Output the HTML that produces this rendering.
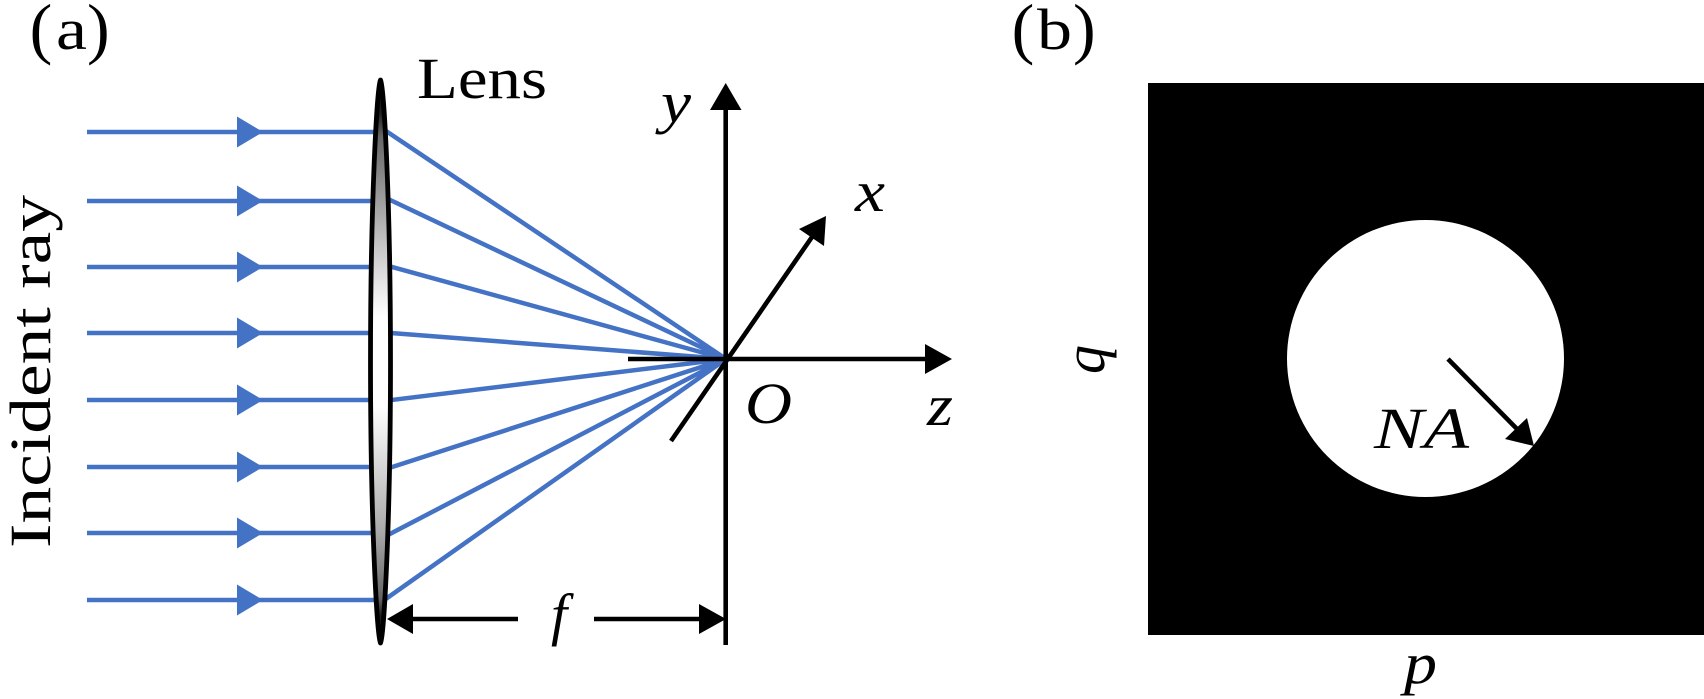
<!DOCTYPE html>
<html><head><meta charset="utf-8"><style>
html,body{margin:0;padding:0;background:#fff;width:1704px;height:699px;overflow:hidden}
svg{display:block}
text{font-family:"Liberation Serif",serif;font-size:58px;fill:#000}
.i{font-style:italic}
.p{font-size:68px}
</style></head><body>
<svg width="1704" height="699" viewBox="0 0 1704 699" xmlns="http://www.w3.org/2000/svg">
<defs><linearGradient id="g" x1="0" y1="0" x2="0" y2="1">
<stop offset="0" stop-color="#000"/><stop offset=".06" stop-color="#222"/><stop offset=".1" stop-color="#666"/><stop offset=".3" stop-color="#c8c8c8"/><stop offset=".42" stop-color="#fff"/><stop offset=".58" stop-color="#fff"/><stop offset=".8" stop-color="#aaa"/><stop offset=".92" stop-color="#666"/><stop offset=".95" stop-color="#222"/><stop offset="1" stop-color="#000"/>
</linearGradient></defs>

<g stroke="#4472c4" stroke-width="4.5" fill="none">
<path d="M87 132H375M87 201H375M87 267H375M87 333H375M87 400H375M87 467H375M87 533H375M87 600H375"/>
<path d="M386 131L726 359M386 198L726 359M386 265.3L726 359M386 332.6L726 359M386 400.7L726 359M386 469L726 359M386 536L726 359M385 599.5L726 359"/>
</g>
<g fill="#4472c4">
<path d="M237 116.5L263 132L237 147.5Z"/><path d="M237 185.5L263 201L237 216.5Z"/><path d="M237 251.5L263 267L237 282.5Z"/><path d="M237 317.5L263 333L237 348.5Z"/><path d="M237 384.5L263 400L237 415.5Z"/><path d="M237 451.5L263 467L237 482.5Z"/><path d="M237 517.5L263 533L237 548.5Z"/><path d="M237 584.5L263 600L237 615.5Z"/>
</g>

<path d="M380.5 80C384 88 390.5 200 390.5 361.5C390.5 523 384 635 380.5 643C377 635 370.5 523 370.5 361.5C370.5 200 377 88 380.5 80Z" fill="url(#g)" stroke="#000" stroke-width="4.8" stroke-linejoin="round"/>

<g stroke="#000" stroke-width="4.6" fill="none">
<path d="M725.7 645V108M628 359H927M671 441L812 237"/>
<path d="M411 619H518M594 619H701"/>
</g>
<path d="M725.7 83L741.5 110H710Z"/>
<path d="M952 359L925 344V374Z"/>
<path d="M826 216L799 229L824 246Z"/>
<path d="M387 619L413 604V634Z"/>
<path d="M726 619L699 604V634Z"/>

<rect x="1148" y="83" width="556" height="552" fill="#000"/>
<circle cx="1425.5" cy="358.5" r="138.5" fill="#fff"/>
<path d="M1448 359L1519 431" stroke="#000" stroke-width="4.6" fill="none"/>
<path d="M1534 446L1505 439L1527 418Z"/>

<text class="p" x="29.6" y="51">(</text>
<text x="56" y="49" textLength="31" lengthAdjust="spacingAndGlyphs">a</text>
<text class="p" x="87" y="51">)</text>
<text class="p" x="1011.6" y="51">(</text>
<text x="1037" y="49" textLength="35" lengthAdjust="spacingAndGlyphs">b</text>
<text class="p" x="1073" y="51">)</text>
<text x="417" y="98" textLength="130" lengthAdjust="spacingAndGlyphs">Lens</text>
<text transform="translate(50 548) rotate(-90)" x="0" y="0" textLength="353" lengthAdjust="spacingAndGlyphs">Incident ray</text>
<text class="i" x="661" y="122" textLength="30" lengthAdjust="spacingAndGlyphs">y</text>
<text class="i" x="855" y="211" textLength="30" lengthAdjust="spacingAndGlyphs">x</text>
<text class="i" x="745" y="423" textLength="47" lengthAdjust="spacingAndGlyphs">O</text>
<text class="i" x="927" y="425" textLength="26" lengthAdjust="spacingAndGlyphs">z</text>
<text class="i" x="551" y="634">f</text>
<text class="i" x="1374" y="448" textLength="95" lengthAdjust="spacingAndGlyphs">NA</text>
<text class="i" x="1404" y="683" textLength="33" lengthAdjust="spacingAndGlyphs">p</text>
<text class="i" transform="translate(1104 374) rotate(-90)" x="0" y="0">q</text>
</svg>
</body></html>
